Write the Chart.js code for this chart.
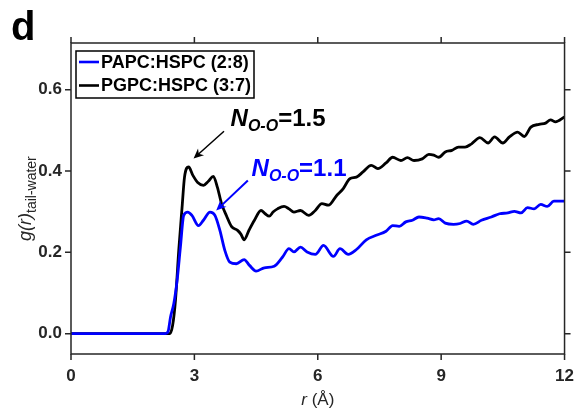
<!DOCTYPE html>
<html>
<head>
<meta charset="utf-8">
<script src="https://cdn.jsdelivr.net/npm/chart.js@4.4.1/dist/chart.umd.min.js"></script>
<style>
  html, body { margin: 0; padding: 0; background: #fff; }
</style>
</head>
<body>
<canvas id="rdf" width="586" height="413"></canvas>
<script>
// r in Angstrom, g(r) tail-water
const rPAPC = [0, 2.30, 2.36, 2.42, 2.50, 2.58, 2.66, 2.74, 2.84, 2.94, 3.10, 3.22, 3.38, 3.50, 3.62, 3.74, 3.86,
  4.02, 4.21, 4.34, 4.50, 4.70, 4.94, 5.14, 5.30, 5.42, 5.58, 5.74, 5.94, 6.14, 6.38, 6.54, 6.74, 6.94,
  7.18, 7.42, 7.66, 7.82, 7.98, 8.14, 8.30, 8.46, 8.66, 8.82, 8.94, 9.10, 9.30, 9.46, 9.62, 9.78, 9.98,
  10.22, 10.42, 10.62, 10.78, 10.94, 11.10, 11.26, 11.42, 11.58, 11.74, 12.0];
const gPAPC = [0, 0, 0.005, 0.041, 0.074, 0.131, 0.213, 0.291, 0.299, 0.291, 0.266, 0.279, 0.299, 0.291, 0.254, 0.205, 0.176,
  0.172, 0.182, 0.168, 0.154, 0.162, 0.166, 0.188, 0.209, 0.201, 0.213, 0.201, 0.195, 0.217, 0.190, 0.209, 0.195, 0.207,
  0.231, 0.242, 0.252, 0.266, 0.264, 0.275, 0.279, 0.287, 0.284, 0.280, 0.283, 0.272, 0.269, 0.271, 0.277, 0.269, 0.279,
  0.287, 0.295, 0.297, 0.301, 0.297, 0.310, 0.307, 0.318, 0.313, 0.326, 0.326];

const rPGPC = [0, 2.40, 2.47, 2.54, 2.62, 2.70, 2.76, 2.86, 2.96, 3.08, 3.22, 3.34, 3.46, 3.56, 3.66, 3.78, 3.90,
  4.05, 4.13, 4.21, 4.33, 4.46, 4.62, 4.72, 4.82, 4.92, 5.02, 5.18, 5.30, 5.42, 5.58, 5.78, 5.94, 6.10, 6.26,
  6.46, 6.62, 6.78, 6.94, 7.10, 7.30, 7.46, 7.66, 7.82, 8.02, 8.18, 8.34, 8.54, 8.70, 8.82, 8.94, 9.10, 9.26,
  9.42, 9.58, 9.74, 9.94, 10.14, 10.30, 10.50, 10.66, 10.86, 11.02, 11.18, 11.38, 11.54, 11.66, 11.78, 12.0];
const gPGPC = [0, 0, 0.02, 0.082, 0.205, 0.310, 0.385, 0.410, 0.390, 0.372, 0.365, 0.375, 0.387, 0.360, 0.320, 0.290, 0.264,
  0.254, 0.245, 0.231, 0.255, 0.279, 0.303, 0.295, 0.289, 0.300, 0.307, 0.313, 0.307, 0.299, 0.303, 0.291, 0.303, 0.320, 0.316,
  0.340, 0.357, 0.381, 0.385, 0.398, 0.414, 0.406, 0.420, 0.434, 0.426, 0.433, 0.426, 0.430, 0.441, 0.439, 0.434, 0.447, 0.451,
  0.459, 0.459, 0.467, 0.482, 0.469, 0.484, 0.469, 0.484, 0.496, 0.485, 0.508, 0.515, 0.518, 0.526, 0.521, 0.533];

const seriesNames = ['PAPC:HSPC (2:8)', 'PGPC:HSPC (3:7)'];
const seriesColors = ['#0000ff', '#000000'];
const xTicks = [0, 3, 6, 9, 12];
const yTicks = [0, 0.2, 0.4, 0.6];

// annotations: [text value, colour, text anchor (r, g), arrow tail (r, g), arrow head (r, g)]
const notes = [
  ['1.5', '#000000', [3.88, 0.512], [3.72, 0.498], [2.98, 0.431]],
  ['1.1', '#0000ff', [4.39, 0.389], [4.30, 0.377], [3.53, 0.303]]
];

const FONT = '"Liberation Sans", Arial, Helvetica, sans-serif';
const AXIS = '#262626';

function pts(xs, ys) {
  return xs.map((x, i) => ({ x: x, y: ys[i] }));
}

// draw text pieces one after the other, returns end x
function rich(ctx, parts, x, y) {
  parts.forEach(p => {
    ctx.font = p.font;
    ctx.fillText(p.t, x, y + (p.dy || 0));
    x += ctx.measureText(p.t).width;
  });
  return x;
}

function arrow(ctx, x1, y1, x2, y2, color, lw) {
  const a = Math.atan2(y2 - y1, x2 - x1);
  const len = 10, wid = 4.5;
  ctx.save();
  ctx.strokeStyle = color;
  ctx.fillStyle = color;
  ctx.lineWidth = lw;
  ctx.beginPath();
  ctx.moveTo(x1, y1);
  ctx.lineTo(x2 - Math.cos(a) * 6, y2 - Math.sin(a) * 6);
  ctx.stroke();
  ctx.translate(x2, y2);
  ctx.rotate(a);
  ctx.beginPath();
  ctx.moveTo(0, 0);
  ctx.lineTo(-len, -wid);
  ctx.lineTo(-len + 3, 0);
  ctx.lineTo(-len, wid);
  ctx.closePath();
  ctx.fill();
  ctx.restore();
}

const decor = {
  id: 'decor',
  afterDatasetsDraw(chart) {
    const ctx = chart.ctx;
    const area = chart.chartArea;
    const xs = chart.scales.x, ys = chart.scales.y;

    // box and outward ticks on all four sides
    ctx.save();
    ctx.strokeStyle = AXIS;
    ctx.lineWidth = 1.5;
    ctx.strokeRect(area.left, area.top, area.right - area.left, area.bottom - area.top);
    ctx.beginPath();
    xTicks.forEach(v => {
      const px = xs.getPixelForValue(v);
      ctx.moveTo(px, area.bottom); ctx.lineTo(px, area.bottom + 6);
      ctx.moveTo(px, area.top); ctx.lineTo(px, area.top - 6);
    });
    yTicks.forEach(v => {
      const py = ys.getPixelForValue(v);
      ctx.moveTo(area.left, py); ctx.lineTo(area.left - 6, py);
      ctx.moveTo(area.right, py); ctx.lineTo(area.right + 6, py);
    });
    ctx.stroke();

    // legend box inside the axes
    const lx = area.left + 5, ly = area.top + 8, lw = 178, lh = 47;
    ctx.fillStyle = '#fff';
    ctx.fillRect(lx, ly, lw, lh);
    ctx.strokeStyle = '#000';
    ctx.lineWidth = 1.5;
    ctx.strokeRect(lx, ly, lw, lh);
    ctx.textBaseline = 'middle';
    ctx.font = 'bold 18px ' + FONT;
    seriesNames.forEach((name, i) => {
      const cy = ly + 11 + i * 23.5;
      ctx.strokeStyle = seriesColors[i];
      ctx.lineWidth = 2.6;
      ctx.beginPath();
      ctx.moveTo(lx + 3, cy); ctx.lineTo(lx + 23, cy);
      ctx.stroke();
      ctx.fillStyle = '#000';
      ctx.fillText(name, lx + 25, cy + 1);
    });

    // N_O-O annotations with arrows
    ctx.textBaseline = 'alphabetic';
    notes.forEach(n => {
      const [val, col, tp, tail, head] = n;
      ctx.fillStyle = col;
      rich(ctx, [
        { t: 'N', font: 'italic bold 24px ' + FONT },
        { t: 'O-O', font: 'italic bold 16px ' + FONT, dy: 5 },
        { t: '=' + val, font: 'bold 24px ' + FONT }
      ], xs.getPixelForValue(tp[0]), ys.getPixelForValue(tp[1]));
      arrow(ctx, xs.getPixelForValue(tail[0]), ys.getPixelForValue(tail[1]),
        xs.getPixelForValue(head[0]), ys.getPixelForValue(head[1]), col, col === '#000000' ? 1.5 : 2);
    });

    // axis titles
    ctx.fillStyle = AXIS;
    ctx.textAlign = 'left';
    ctx.font = 'italic 17px ' + FONT;
    const rw = ctx.measureText('r').width;
    ctx.font = '17px ' + FONT;
    const tw = rw + ctx.measureText(' (\u00c5)').width;
    const cx = (area.left + area.right) / 2;
    rich(ctx, [
      { t: 'r', font: 'italic 17px ' + FONT },
      { t: ' (\u00c5)', font: '17px ' + FONT }
    ], cx - tw / 2, 405);

    ctx.save();
    ctx.translate(31, 241);
    ctx.rotate(-Math.PI / 2);
    rich(ctx, [
      { t: 'g(r)', font: 'italic 18px ' + FONT },
      { t: 'tail-water', font: '14px ' + FONT, dy: 5 }
    ], 0, 0);
    ctx.restore();

    // panel letter
    ctx.fillStyle = '#000';
    ctx.font = 'bold 40px ' + FONT;
    ctx.fillText('d', 11, 40);
    ctx.restore();
  }
};

new Chart(document.getElementById('rdf'), {
  type: 'line',
  data: {
    datasets: [
      { label: seriesNames[0], data: pts(rPAPC, gPAPC), borderColor: seriesColors[0], borderWidth: 2.8 },
      { label: seriesNames[1], data: pts(rPGPC, gPGPC), borderColor: seriesColors[1], borderWidth: 2.8 }
    ]
  },
  options: {
    responsive: false,
    animation: false,
    devicePixelRatio: 1,
    layout: { padding: { top: 43, right: 15, left: 0, bottom: 0 } },
    elements: {
      point: { radius: 0 },
      line: { cubicInterpolationMode: 'monotone', fill: false }
    },
    plugins: { legend: { display: false }, tooltip: { enabled: false } },
    scales: {
      x: {
        type: 'linear', min: 0, max: 12,
        grid: { display: false, drawTicks: false },
        border: { display: false },
        ticks: { stepSize: 3, color: AXIS, padding: 12, maxRotation: 0, font: { family: FONT, size: 17, weight: 'bold' } },
        afterBuildTicks: s => { s.ticks = xTicks.map(v => ({ value: v })); },
        afterFit: s => { s.height = 59; }
      },
      y: {
        type: 'linear', min: -0.05, max: 0.715,
        grid: { display: false, drawTicks: false },
        border: { display: false },
        ticks: { color: AXIS, padding: 9, callback: v => v.toFixed(1), font: { family: FONT, size: 17, weight: 'bold' } },
        afterBuildTicks: s => { s.ticks = yTicks.map(v => ({ value: v })); },
        afterFit: s => { s.width = 71; }
      }
    }
  },
  plugins: [decor]
});
</script>
</body>
</html>
